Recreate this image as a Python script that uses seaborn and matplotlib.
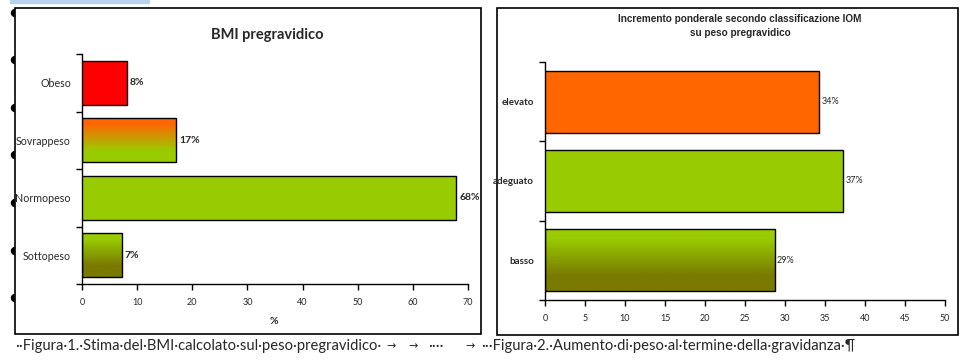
import numpy as np
import matplotlib
matplotlib.use("Agg")
import matplotlib.pyplot as plt
import matplotlib.patches as mpatches
from matplotlib.colors import to_rgb
import seaborn as sns

# data
bmi_cats = ["Obeso", "Sovrappeso", "Normopeso", "Sottopeso"]
bmi_vals = [8.1, 17.1, 67.9, 7.2]
bmi_labels = ["8%", "17%", "68%", "7%"]

iom_cats = ["elevato", "adeguato", "basso"]
iom_vals = [34.3, 37.3, 28.7]
iom_labels = ["34%", "37%", "29%"]

RED = "#ff0000"
ORANGE = "#ff6600"
GREEN = "#99cc00"
OLIVE = "#7a7a00"

# colour of each bar: a single colour or (top, bottom) gradient
bmi_fill = [RED, (ORANGE, GREEN), GREEN, (GREEN, OLIVE)]
iom_fill = [ORANGE, GREEN, (GREEN, OLIVE)]

sns.set_theme(style="white")
plt.rcParams["font.family"] = ["Lato", "DejaVu Sans"]

W, H = 977, 361
fig = plt.figure(figsize=(W / 100, H / 100), dpi=100)
fig.patch.set_facecolor("white")


def fx(px):
    return px / W


def fy(py):
    return 1 - py / H


def gradient_bars(ax, fills):
    xlim, ylim = ax.get_xlim(), ax.get_ylim()
    for patch, fill in zip(ax.patches, fills):
        patch.set_edgecolor("black")
        patch.set_linewidth(1.0)
        if isinstance(fill, tuple):
            top, bot = np.array(to_rgb(fill[0])), np.array(to_rgb(fill[1]))
            t = np.linspace(0, 1, 100)[:, None]
            t = np.clip((t - 0.15) / 0.6, 0, 1)
            img = (top[None, :] * (1 - t) + bot[None, :] * t)[:, None, :]
            x0, y0 = patch.get_x(), patch.get_y()
            w, h = patch.get_width(), patch.get_height()
            # y axis is inverted: y0 is the visual top
            im = ax.imshow(img, extent=(x0, x0 + w, y0 + h, y0), origin="upper",
                           aspect="auto", zorder=2)
            im.set_clip_path(patch)
            patch.set_facecolor("none")
        else:
            patch.set_facecolor(fill)
        patch.set_zorder(3)
    ax.set_xlim(xlim)
    ax.set_ylim(ylim)


def style_axes(ax, n):
    for s in ["top", "right"]:
        ax.spines[s].set_visible(False)
    for s in ["left", "bottom"]:
        ax.spines[s].set_color("black")
        ax.spines[s].set_linewidth(1.0)
    ax.set_yticks(np.arange(-0.5, n, 1.0), minor=True)
    ax.tick_params(axis="y", which="major", length=0, pad=8)
    ax.tick_params(axis="y", which="minor", length=4, width=1, color="black", left=True)
    ax.tick_params(axis="x", which="major", length=4, width=1, color="black",
                   bottom=True, labelsize=6.5, pad=6)
    ax.set_xlabel("")
    ax.set_ylabel("")
    ax.patch.set_alpha(0)


# background decorations: bullets and frames
for by in [13, 60, 108, 155, 203, 251, 298]:
    fig.patches.append(mpatches.Ellipse((fx(15), fy(by)), fx(7), 7 / H, color="black",
                                        transform=fig.transFigure, zorder=-3))
fig.patches.append(mpatches.Rectangle((fx(10), fy(3)), fx(139), 3 / H, color="#b8d3ee",
                                      transform=fig.transFigure, zorder=-3))
for x0, y0, x1, y1 in [(15, 8, 481, 334), (497, 8, 958, 335)]:
    fig.patches.append(mpatches.Rectangle((fx(x0), fy(y1)), fx(x1 - x0), (y1 - y0) / H,
                                          facecolor="white", edgecolor="black", lw=1.2,
                                          transform=fig.transFigure, zorder=-1))

# left chart
ax1 = fig.add_axes([fx(82), fy(284), fx(386), 230 / H])
sns.barplot(x=bmi_vals, y=bmi_cats, orient="h", width=0.77, ax=ax1, color=GREEN)
ax1.set_xlim(0, 70)
ax1.set_xticks(range(0, 71, 10))
style_axes(ax1, len(bmi_cats))
ax1.tick_params(axis="y", labelsize=7.7)
gradient_bars(ax1, bmi_fill)
for i, (v, lab) in enumerate(zip(bmi_vals, bmi_labels)):
    ax1.annotate(lab, (v, i), xytext=(2, 0), textcoords="offset points",
                 va="center", ha="left", fontsize=7.5, fontweight="bold")
fig.text(fx(267), fy(35), "BMI pregravidico", ha="center", va="center",
         fontsize=10.5, fontweight="bold")
fig.text(fx(274), fy(322), "%", ha="center", va="center", fontsize=7.5, fontweight="bold")

# right chart
ax2 = fig.add_axes([fx(545), fy(300), fx(400), 238 / H])
sns.barplot(x=iom_vals, y=iom_cats, orient="h", width=0.78, ax=ax2, color=GREEN)
ax2.set_xlim(0, 50)
ax2.set_xticks(range(0, 51, 5))
style_axes(ax2, len(iom_cats))
for lab in ax2.get_yticklabels():
    lab.set_fontweight("bold")
    lab.set_fontsize(7)
gradient_bars(ax2, iom_fill)
for i, (v, lab) in enumerate(zip(iom_vals, iom_labels)):
    ax2.annotate(lab, (v, i), xytext=(1.5, 0), textcoords="offset points",
                 va="center", ha="left", fontsize=6.5)
fig.text(fx(740), fy(26.5), "Incremento ponderale secondo classificazione IOM\nsu peso pregravidico",
         ha="center", va="center", fontsize=7.2, fontweight="bold",
         family=["Liberation Sans", "DejaVu Sans"], linespacing=1.5)

# captions below the frames
cap = dict(va="center", ha="left", fontsize=10.6, family=["Lato", "DejaVu Sans"])
arrow = dict(va="center", ha="left", fontsize=8, family=["DejaVu Sans"])
fig.text(fx(15), fy(346), "··Figura·1.·Stima·del·BMI·calcolato·sul·peso·pregravidico·", **cap)
fig.text(fx(386), fy(346), "→", **arrow)
fig.text(fx(408), fy(346), "→", **arrow)
fig.text(fx(428), fy(346), "····", **cap)
fig.text(fx(465), fy(346), "→", **arrow)
fig.text(fx(481), fy(346), "···Figura·2.·Aumento·di·peso·al·termine·della·gravidanza·¶", **cap)

fig.savefig("out.png", dpi=100)
